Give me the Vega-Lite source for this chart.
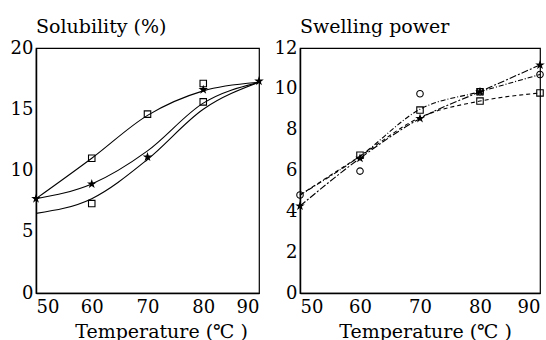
{
  "$schema": "https://vega.github.io/schema/vega-lite/v6.json",
  "background": "white",
  "padding": {"left": 9, "top": 17, "right": 0, "bottom": 0},
  "spacing": 41,
  "bounds": "flush",
  "datasets": {
    "sol_lines": [
      {"s": "A", "t": 50, "v": 7.7}, {"s": "A", "t": 60, "v": 11.0}, {"s": "A", "t": 70, "v": 14.5}, {"s": "A", "t": 80, "v": 16.5}, {"s": "A", "t": 90, "v": 17.2},
      {"s": "B", "t": 50, "v": 7.7}, {"s": "B", "t": 60, "v": 8.9}, {"s": "B", "t": 70, "v": 11.6}, {"s": "B", "t": 80, "v": 15.5}, {"s": "B", "t": 90, "v": 17.2},
      {"s": "C", "t": 50, "v": 6.5}, {"s": "C", "t": 60, "v": 7.7}, {"s": "C", "t": 70, "v": 10.9}, {"s": "C", "t": 80, "v": 15.0}, {"s": "C", "t": 90, "v": 17.2}
    ],
    "sol_points": [
      {"m": "square", "t": 60, "v": 11.0}, {"m": "square", "t": 70, "v": 14.6}, {"m": "square", "t": 80, "v": 17.1},
      {"m": "square", "t": 60, "v": 7.3}, {"m": "square", "t": 80, "v": 15.6},
      {"m": "star", "t": 50, "v": 7.7}, {"m": "star", "t": 60, "v": 8.9}, {"m": "star", "t": 70, "v": 11.1}, {"m": "star", "t": 80, "v": 16.6}, {"m": "star", "t": 90, "v": 17.3}
    ],
    "sw_lines": [
      {"s": "A", "t": 50, "v": 4.26}, {"s": "A", "t": 60, "v": 6.6}, {"s": "A", "t": 70, "v": 8.55}, {"s": "A", "t": 80, "v": 9.86}, {"s": "A", "t": 90, "v": 11.17},
      {"s": "B", "t": 50, "v": 4.8}, {"s": "B", "t": 60, "v": 6.7}, {"s": "B", "t": 70, "v": 9.0}, {"s": "B", "t": 80, "v": 9.86}, {"s": "B", "t": 90, "v": 10.7},
      {"s": "C", "t": 50, "v": 4.8}, {"s": "C", "t": 60, "v": 6.7}, {"s": "C", "t": 70, "v": 8.6}, {"s": "C", "t": 80, "v": 9.4}, {"s": "C", "t": 90, "v": 9.8}
    ],
    "sw_points": [
      {"m": "star", "t": 50, "v": 4.26}, {"m": "star", "t": 60, "v": 6.6}, {"m": "star", "t": 70, "v": 8.55}, {"m": "star", "t": 80, "v": 9.86}, {"m": "star", "t": 90, "v": 11.17},
      {"m": "circle", "t": 50, "v": 4.8}, {"m": "circle", "t": 60, "v": 5.97}, {"m": "circle", "t": 70, "v": 9.76}, {"m": "circle", "t": 80, "v": 9.86}, {"m": "circle", "t": 90, "v": 10.7},
      {"m": "square", "t": 60, "v": 6.75}, {"m": "square", "t": 70, "v": 8.96}, {"m": "square", "t": 80, "v": 9.4}, {"m": "square", "t": 80, "v": 9.86}, {"m": "square", "t": 90, "v": 9.8}
    ]
  },
  "hconcat": [
    {
      "width": 223,
      "height": 245,
      "title": {"text": "Solubility  (%)", "frame": "group"},
      "layer": [
        {
          "data": {"name": "sol_lines"},
          "mark": {"type": "line", "interpolate": "monotone", "color": "black", "strokeWidth": 1.1},
          "encoding": {
            "x": {"field": "t", "type": "quantitative", "scale": {"domain": [50, 90], "nice": false}, "axis": {"values": [50, 60, 70, 80, 90], "title": "Temperature  (℃ )", "titleX": 125, "titleAlign": "center", "labelPadding": 5}},
            "y": {"field": "v", "type": "quantitative", "scale": {"domain": [0, 20], "nice": false}, "axis": {"values": [0, 5, 10, 15, 20], "title": null}},
            "detail": {"field": "s"}
          }
        },
        {
          "data": {"name": "sol_points"},
          "mark": {"type": "point", "stroke": "black", "strokeWidth": 1.1, "size": 42, "opacity": 1},
          "encoding": {
            "x": {"field": "t", "type": "quantitative"},
            "y": {"field": "v", "type": "quantitative"},
            "shape": {"field": "m", "type": "nominal", "scale": {"domain": ["square", "star", "circle"], "range": ["square", "M0,-1L0.2245,-0.309L0.951,-0.309L0.363,0.118L0.588,0.809L0,0.382L-0.588,0.809L-0.363,0.118L-0.951,-0.309L-0.2245,-0.309Z", "circle"]}, "legend": null},
            "fill": {"field": "m", "type": "nominal", "scale": {"domain": ["square", "star", "circle"], "range": ["transparent", "black", "transparent"]}, "legend": null}
          }
        }
      ]
    },
    {
      "width": 240,
      "height": 245,
      "title": {"text": "Swelling  power", "frame": "group"},
      "layer": [
        {
          "data": {"name": "sw_lines"},
          "mark": {"type": "line", "interpolate": "monotone", "color": "black", "strokeWidth": 1.1},
          "encoding": {
            "x": {"field": "t", "type": "quantitative", "scale": {"domain": [50, 90], "nice": false}, "axis": {"values": [50, 60, 70, 80, 90], "title": "Temperature  (℃ )", "titleX": 125, "titleAlign": "center", "labelPadding": 5}},
            "y": {"field": "v", "type": "quantitative", "scale": {"domain": [0, 12], "nice": false}, "axis": {"values": [0, 2, 4, 6, 8, 10, 12], "title": null}},
            "strokeDash": {"field": "s", "type": "nominal", "scale": {"domain": ["A", "B", "C"], "range": [[7, 2, 2, 2], [5, 2, 1, 2], [4, 3]]}, "legend": null}
          }
        },
        {
          "data": {"name": "sw_points"},
          "mark": {"type": "point", "stroke": "black", "strokeWidth": 1.1, "size": 42, "opacity": 1},
          "encoding": {
            "x": {"field": "t", "type": "quantitative"},
            "y": {"field": "v", "type": "quantitative"},
            "shape": {"field": "m", "type": "nominal", "scale": {"domain": ["square", "star", "circle"], "range": ["square", "M0,-1L0.2245,-0.309L0.951,-0.309L0.363,0.118L0.588,0.809L0,0.382L-0.588,0.809L-0.363,0.118L-0.951,-0.309L-0.2245,-0.309Z", "circle"]}, "legend": null},
            "fill": {"field": "m", "type": "nominal", "scale": {"domain": ["square", "star", "circle"], "range": ["transparent", "black", "transparent"]}, "legend": null}
          }
        }
      ]
    }
  ],
  "resolve": {"scale": {"shape": "independent", "fill": "independent"}},
  "config": {
    "font": "DejaVu Serif",
    "view": {"stroke": "black", "strokeWidth": 1.2},
    "axis": {"grid": false, "ticks": false, "domainColor": "black", "domainWidth": 1.5, "labelColor": "black", "labelFontSize": 18, "labelFont": "DejaVu Serif", "labelPadding": 3, "titleFont": "DejaVu Serif", "titleFontSize": 19, "titleFontWeight": "normal", "titleColor": "black", "titlePadding": 6},
    "title": {"font": "DejaVu Serif", "fontSize": 19, "fontWeight": "normal", "anchor": "start", "color": "black", "offset": 2}
  }
}
